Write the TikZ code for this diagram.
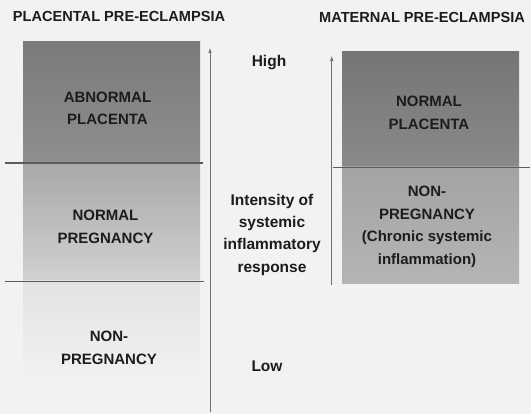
\documentclass[tikz,border=0pt]{standalone}
\usepackage{fontspec}
\setmainfont{Liberation Sans}
\usepackage{xcolor}
\usepackage{tikz}
\usetikzlibrary{arrows.meta}
\definecolor{pagebg}{RGB}{242,242,242}
\definecolor{inkgray}{RGB}{28,28,28}
\definecolor{rulegray}{RGB}{92,92,92}
\definecolor{axisgray}{RGB}{110,110,110}

\begin{document}
\begin{tikzpicture}[x=1pt,y=-1pt, every node/.style={font=\fontsize{15}{22.5}\selectfont\bfseries, text=inkgray, inner sep=0pt, align=center}]
  \tikzstyle{headtext}=[font=\fontsize{14.6}{18}\selectfont\bfseries, anchor=base]
  \tikzstyle{bandtext}=[]
  \tikzstyle{axistext}=[font=\fontsize{15.5}{22.3}\selectfont\bfseries]
  \tikzstyle{divider}=[draw=rulegray, line width=1.3pt]
  \tikzstyle{thindivider}=[draw=rulegray, line width=0.8pt]
  \tikzstyle{axisline}=[draw=axisgray, line width=0.7pt, -{Latex[length=5pt,width=3.6pt]}]
  \fill[pagebg] (0,0) rectangle (531,414);
  \shade[top color=black!52, bottom color=black!44] (23,42) rectangle (200,163);
  \shade[top color=black!34, bottom color=black!18] (23,163) rectangle (200,281);
  \shade[top color=black!11, bottom color=pagebg] (23,281) rectangle (200,384);
  \shade[top color=black!54, bottom color=black!46] (342,52) rectangle (519,167);
  \shade[top color=black!36, bottom color=black!29] (342,167) rectangle (519,284);
  \coordinate (ld1w) at (5,163);
  \coordinate (ld1e) at (203,163);
  \coordinate (ld2w) at (5,281.5);
  \coordinate (ld2e) at (204,281.5);
  \coordinate (rdw) at (333,167.3);
  \coordinate (rde) at (530,167.3);
  \coordinate (lbot) at (210,412);
  \coordinate (ltop) at (210,48);
  \coordinate (rbot) at (331.7,285);
  \coordinate (rtop) at (331.7,56);
  \draw[divider] (ld1w) -- (ld1e);
  \draw[thindivider] (ld2w) -- (ld2e);
  \draw[divider] (rdw) -- (rde);
  \draw[axisline] (lbot) -- (ltop);
  \draw[axisline] (rbot) -- (rtop);
  \node[headtext] (placental) at (119,22) {PLACENTAL PRE-ECLAMPSIA};
  \node[headtext] (maternal) at (422,23) {MATERNAL PRE-ECLAMPSIA};
  \node[bandtext] (abnplac) at (107.5,108.5) {ABNORMAL\\PLACENTA};
  \node[bandtext] (normpreg) at (105.5,226.7) {NORMAL\\PREGNANCY};
  \node[bandtext] (nonpreg) at (109,348) {NON-\\PREGNANCY};
  \node[bandtext] (normplac) at (429,112.8) {NORMAL\\PLACENTA};
  \node[bandtext] (chronic) at (427,226.7) {NON-\\PREGNANCY\\(Chronic systemic\\inflammation)};
  \node[axistext, anchor=base] (high) at (269,67) {High};
  \node[axistext] (intensity) at (272,234.8) {Intensity of\\systemic\\inflammatory\\response};
  \node[axistext, anchor=base] (low) at (267,372) {Low};
\end{tikzpicture}
\end{document}
